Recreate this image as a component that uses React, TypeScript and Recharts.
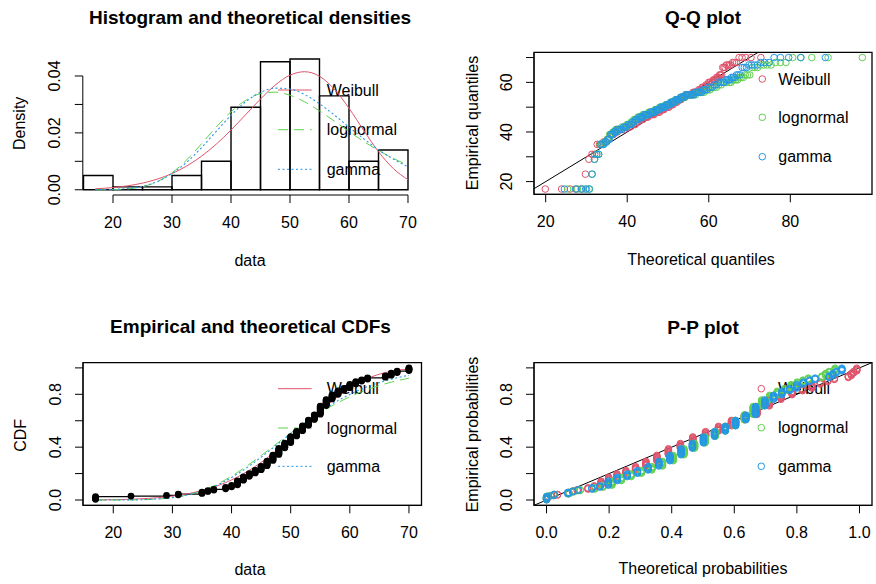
import { ComposedChart, Line, Scatter, XAxis, YAxis, ReferenceArea, ReferenceLine } from "recharts";

const FONT = '"Liberation Sans", Arial, Helvetica, sans-serif';
const RED = "#DF536B";
const GREEN = "#61D04F";
const BLUE = "#2297E6";
const DASH = "10 6";
const DOT = "2 2.5";
const FS = 16;
const TITLE_FS = 19;

// observed sample: distinct values and how often each occurs (n = 200)
const values = [17, 23, 29, 31, 35, 36, 37, 39, 40, 41, 42, 43, 44, 45, 46, 47, 48, 49, 50, 51, 52, 53, 54, 55, 56, 57, 58, 59, 60, 61, 62, 63, 66, 67, 68, 70];
const counts = [5, 1, 1, 2, 3, 2, 2, 3, 3, 7, 6, 5, 5, 6, 8, 9, 10, 8, 10, 8, 8, 9, 8, 13, 10, 7, 6, 4, 6, 4, 3, 3, 3, 4, 3, 5];

// histogram
const histBreaks = [15, 20, 25, 30, 35, 40, 45, 50, 55, 60, 65, 70];
const histDensity = [0.005, 0.001, 0.001, 0.005, 0.01, 0.029, 0.045, 0.046, 0.033, 0.01, 0.014];

// fitted densities
const densX = [17, 20, 22.5, 25, 27.5, 30, 32.5, 35, 37.5, 40, 42.5, 45, 47.5, 50, 52.5, 55, 57.5, 60, 62.5, 65, 67.5, 70];
const densWeibull = [0.00034, 0.00077, 0.00139, 0.00234, 0.00374, 0.00571, 0.00837, 0.0118, 0.01604, 0.021, 0.02645, 0.0319, 0.03681, 0.0403, 0.0415, 0.0399, 0.0354, 0.02866, 0.02085, 0.0134, 0.00748, 0.00353];
const densLognormal = [0.0, 0.00006, 0.00031, 0.00108, 0.00283, 0.00598, 0.01052, 0.01616, 0.02204, 0.02743, 0.03145, 0.0338, 0.03432, 0.03324, 0.0309, 0.02773, 0.02416, 0.02048, 0.01699, 0.01379, 0.01104, 0.00867];
const densGamma = [0.00002, 0.00013, 0.00046, 0.00127, 0.0029, 0.00567, 0.0097, 0.01481, 0.02053, 0.02617, 0.03096, 0.03426, 0.03573, 0.0354, 0.03345, 0.03023, 0.02631, 0.02206, 0.01794, 0.01411, 0.01079, 0.00806];

// fitted CDFs at each distinct value
const cdfWeibull = [0.001, 0.006, 0.0237, 0.0352, 0.0714, 0.084, 0.0983, 0.1323, 0.1523, 0.1744, 0.1986, 0.2251, 0.2538, 0.2846, 0.3176, 0.3526, 0.3894, 0.4277, 0.4674, 0.5082, 0.5495, 0.591, 0.6321, 0.6725, 0.7118, 0.7492, 0.7846, 0.8176, 0.8477, 0.8748, 0.8988, 0.9197, 0.9643, 0.974, 0.9814, 0.9913];
const cdfLognormal = [0.0, 0.0006, 0.0121, 0.0241, 0.0708, 0.0882, 0.1079, 0.1543, 0.1806, 0.209, 0.239, 0.2704, 0.303, 0.3365, 0.3704, 0.4047, 0.4391, 0.4731, 0.5067, 0.5395, 0.5714, 0.6024, 0.6321, 0.6605, 0.6877, 0.7133, 0.7373, 0.76, 0.7812, 0.8011, 0.8194, 0.8364, 0.8798, 0.8918, 0.9028, 0.922];
const cdfGamma = [0.0, 0.0012, 0.0135, 0.0249, 0.0678, 0.0836, 0.1017, 0.145, 0.1703, 0.1974, 0.2263, 0.2578, 0.2905, 0.3245, 0.3589, 0.3945, 0.43, 0.4661, 0.5014, 0.5367, 0.5711, 0.6045, 0.6372, 0.6679, 0.6976, 0.7255, 0.7521, 0.7764, 0.7994, 0.8208, 0.8405, 0.8583, 0.9027, 0.9148, 0.9255, 0.9437];

// Q-Q: ranks shown and their theoretical quantiles
const qqRanks = [1, 2, 3, 4, 5, 6, 7, 8, 9, 10, 11, 12, 13, 14, 15, 16, 17, 18, 19, 20, 21, 22, 23, 24,
  26, 28, 30, 32, 34, 36, 38, 40, 42, 44, 46, 48, 50, 52, 54, 56, 58, 60, 62, 64, 66, 68, 70, 72, 74, 76, 78, 80, 82, 84, 86, 88, 90, 92, 94, 96, 98, 100,
  102, 104, 106, 108, 110, 112, 114, 116, 118, 120, 122, 124, 126, 128, 130, 132, 134, 136, 138, 140, 142, 144, 146, 148, 150, 152, 154, 156, 158, 160, 162, 164, 166, 168, 170, 172,
  174, 175, 176, 177, 178, 179, 180, 181, 182, 183, 184, 185, 186, 187, 188, 189, 190, 191, 192, 193, 194, 195, 196, 197, 198, 199, 200];
const qqWeibull = [19.9, 23.91, 26.04, 27.56, 28.75, 29.74, 30.59, 31.34, 32.01, 32.63, 33.19, 33.71, 34.2, 34.66, 35.09, 35.49, 35.88, 36.25, 36.61, 36.95, 37.27, 37.59, 37.89, 38.18,
  38.74, 39.27, 39.77, 40.24, 40.7, 41.13, 41.55, 41.96, 42.35, 42.72, 43.09, 43.44, 43.79, 44.13, 44.46, 44.78, 45.09, 45.4, 45.7, 46.0, 46.29, 46.58, 46.86, 47.14, 47.41, 47.68, 47.95, 48.21, 48.48, 48.74, 48.99, 49.25, 49.5, 49.75, 50.0, 50.25, 50.49, 50.74,
  50.98, 51.23, 51.47, 51.71, 51.95, 52.19, 52.43, 52.68, 52.92, 53.16, 53.4, 53.64, 53.89, 54.13, 54.38, 54.63, 54.87, 55.12, 55.38, 55.63, 55.89, 56.15, 56.41, 56.68, 56.95, 57.23, 57.51, 57.79, 58.08, 58.38, 58.69, 59.0, 59.32, 59.65, 59.99, 60.35,
  60.72, 60.91, 61.11, 61.31, 61.51, 61.72, 61.94, 62.17, 62.4, 62.64, 62.89, 63.15, 63.42, 63.7, 64.01, 64.32, 64.66, 65.02, 65.41, 65.83, 66.3, 66.83, 67.44, 68.16, 69.08, 70.36, 72.78];
const qqLognormal = [25.39, 27.78, 29.08, 30.03, 30.78, 31.42, 31.98, 32.49, 32.94, 33.36, 33.75, 34.12, 34.46, 34.79, 35.1, 35.4, 35.69, 35.97, 36.23, 36.49, 36.74, 36.98, 37.21, 37.44,
  37.9, 38.32, 38.73, 39.13, 39.51, 39.89, 40.25, 40.6, 40.95, 41.29, 41.63, 41.96, 42.28, 42.6, 42.91, 43.23, 43.53, 43.85, 44.14, 44.45, 44.73, 45.04, 45.33, 45.61, 45.91, 46.21, 46.5, 46.79, 47.08, 47.38, 47.66, 47.96, 48.25, 48.54, 48.83, 49.14, 49.43, 49.73,
  50.03, 50.33, 50.63, 50.93, 51.24, 51.56, 51.87, 52.19, 52.51, 52.84, 53.16, 53.49, 53.84, 54.18, 54.53, 54.89, 55.25, 55.63, 56.0, 56.37, 56.77, 57.18, 57.58, 58.01, 58.45, 58.88, 59.35, 59.83, 60.31, 60.82, 61.35, 61.9, 62.48, 63.07, 63.7, 64.37,
  65.06, 65.44, 65.83, 66.23, 66.63, 67.06, 67.5, 67.97, 68.46, 68.95, 69.49, 70.06, 70.67, 71.29, 71.97, 72.69, 73.48, 74.34, 75.29, 76.34, 77.56, 78.93, 80.58, 82.59, 85.27, 89.27, 97.68];
const qqGamma = [24.59, 27.31, 28.77, 29.82, 30.65, 31.35, 31.96, 32.51, 33.0, 33.46, 33.87, 34.26, 34.63, 34.97, 35.3, 35.62, 35.93, 36.22, 36.49, 36.77, 37.03, 37.28, 37.52, 37.77,
  38.23, 38.67, 39.1, 39.5, 39.89, 40.27, 40.64, 40.99, 41.35, 41.69, 42.03, 42.36, 42.68, 42.99, 43.31, 43.62, 43.92, 44.23, 44.52, 44.82, 45.1, 45.4, 45.68, 45.96, 46.24, 46.53, 46.81, 47.09, 47.38, 47.66, 47.93, 48.21, 48.49, 48.76, 49.04, 49.33, 49.61, 49.89,
  50.17, 50.45, 50.74, 51.02, 51.31, 51.6, 51.89, 52.18, 52.48, 52.78, 53.07, 53.38, 53.7, 54.0, 54.33, 54.65, 54.98, 55.32, 55.65, 55.98, 56.35, 56.71, 57.07, 57.45, 57.83, 58.22, 58.63, 59.04, 59.47, 59.91, 60.37, 60.84, 61.34, 61.85, 62.39, 62.95,
  63.55, 63.86, 64.19, 64.53, 64.86, 65.22, 65.58, 65.98, 66.38, 66.79, 67.23, 67.7, 68.19, 68.7, 69.25, 69.84, 70.47, 71.15, 71.91, 72.74, 73.7, 74.76, 76.03, 77.58, 79.6, 82.56, 88.59];

// axis ticks
const dataTicks = [20, 30, 40, 50, 60, 70];
const densTicks = [0, 0.01, 0.02, 0.03, 0.04];
const densLabels = [0, 0.02, 0.04];
const qqXTicks = [20, 40, 60, 80];
const qqYTicks = [20, 30, 40, 50, 60, 70];
const qqYLabels = [20, 40, 60];
const probTicks = [0, 0.2, 0.4, 0.6, 0.8, 1];
const probLabels = [0, 0.4, 0.8];

// derived from the sample
const sample = values.flatMap((v, k) => Array.from({ length: counts[k] }, () => v));
const N = sample.length;
const cumEnd: number[] = [];
counts.reduce((s, c, k) => ((cumEnd[k] = s + c), s + c), 0);

const ecdfDots = sample.map((v, i) => ({ x: v, y: (i + 1) / N }));
const ecdfSteps = values.map((v, k) => ({ x: v, y: cumEnd[k] / N }));
const curve = (xs: number[], ys: number[]) => xs.map((x, k) => ({ x, y: ys[k] }));
const ppDots = (cdf: number[]) =>
  values.flatMap((_, k) =>
    Array.from({ length: counts[k] }, (_, j) => ({ x: cdf[k], y: (cumEnd[k] - counts[k] + j + 0.5) / N }))
  );
const qqDots = (q: number[]) => qqRanks.map((r, j) => ({ x: q[j], y: sample[r - 1] }));

const txt = { fontFamily: FONT, fontSize: FS, fill: "#000" };

const xTick = (fmt: (v: number) => string) => (p: any) => (
  <text x={p.x} y={p.y + 23} textAnchor="middle" {...txt}>
    {fmt(p.payload.value)}
  </text>
);
const yTick = (labels: number[], fmt: (v: number) => string) => (p: any) => {
  if (!labels.some((l) => Math.abs(l - p.payload.value) < 1e-9)) return <g />;
  const bx = p.x - 12.3;
  return (
    <text x={bx} y={p.y} transform={`rotate(-90 ${bx} ${p.y})`} textAnchor="middle" {...txt}>
      {fmt(p.payload.value)}
    </text>
  );
};

const openCircle = (color: string) => (p: any) => (
  <circle cx={p.cx} cy={p.cy} r={3.3} fill="none" stroke={color} strokeWidth={1} />
);
const filledDot = (p: any) => <circle cx={p.cx} cy={p.cy} r={3.4} fill="#000" />;

function Label({ x, y, text, size = FS, bold = false, vertical = false, anchor = "middle" }: any) {
  const off = size * 0.36;
  const style = { fontFamily: FONT, fontSize: size, fontWeight: bold ? 700 : 400, fill: "#000" };
  if (vertical) {
    const bx = x + off;
    return (
      <text x={bx} y={y} transform={`rotate(-90 ${bx} ${y})`} textAnchor="middle" style={style}>
        {text}
      </text>
    );
  }
  return (
    <text x={x} y={y + off} textAnchor={anchor} style={style}>
      {text}
    </text>
  );
}

const legendNames = ["Weibull", "lognormal", "gamma"];
const legendColors = [RED, GREEN, BLUE];
const legendDash = [undefined, DASH, DOT];

function LineLegend({ x0, x1, tx, rows }: any) {
  return (
    <g>
      {rows.map((y: number, i: number) => (
        <g key={i}>
          <line x1={x0} x2={x1} y1={y} y2={y} stroke={legendColors[i]} strokeDasharray={legendDash[i]} />
          <Label x={tx} y={y} text={legendNames[i]} anchor="start" />
        </g>
      ))}
    </g>
  );
}

function PointLegend({ cx, tx, rows }: any) {
  return (
    <g>
      {rows.map((y: number, i: number) => (
        <g key={i}>
          <circle cx={cx} cy={y} r={3.3} fill="none" stroke={legendColors[i]} />
          <Label x={tx} y={y} text={legendNames[i]} anchor="start" />
        </g>
      ))}
    </g>
  );
}

const W = 438;
const H = 292;
const fmt0 = (v: number) => String(v);
const fmt1 = (v: number) => v.toFixed(1);
const fmt2 = (v: number) => v.toFixed(2);

export default function App() {
  const dataDom: [number, number] = [14.88, 72.12];
  const probDom: [number, number] = [-0.04, 1.04];
  const qqXDom: [number, number] = [17.13, 100.04];
  const qqYDom: [number, number] = [14.88, 72.12];
  const densDom: [number, number] = [-0.00184, 0.04784];

  return (
    <div style={{ position: "fixed", left: 0, top: 0, width: 876, height: 584, background: "#fff" }}>
      {/* titles, axis titles, legends (drawn under the plotted marks) */}
      <svg width={876} height={584} style={{ position: "absolute", left: 0, top: 0 }}>
        <Label x={250} y={17.3} text="Histogram and theoretical densities" size={TITLE_FS} bold />
        <Label x={703} y={17.3} text="Q-Q plot" size={TITLE_FS} bold />
        <Label x={250.5} y={326.3} text="Empirical and theoretical CDFs" size={TITLE_FS} bold />
        <Label x={703} y={327} text="P-P plot" size={TITLE_FS} bold />

        <Label x={250} y={260} text="data" />
        <Label x={701} y={259} text="Theoretical quantiles" />
        <Label x={250} y={569.3} text="data" />
        <Label x={703} y={568.7} text="Theoretical probabilities" />

        <Label x={19.7} y={123.3} text="Density" vertical />
        <Label x={472.3} y={123} text="Empirical quantiles" vertical />
        <Label x={20.7} y={435.3} text="CDF" vertical />
        <Label x={472.3} y={434.5} text="Empirical probabilities" vertical />

        <LineLegend x0={278} x1={311.7} tx={326.7} rows={[90, 129.7, 169.3]} />
        <LineLegend x0={278} x1={311.7} tx={326.7} rows={[388.7, 428, 466.3]} />
        <PointLegend cx={762.3} tx={778.3} rows={[79, 117.3, 156.7]} />
        <PointLegend cx={761.3} tx={778} rows={[388.7, 427.7, 466.3]} />
      </svg>

      {/* histogram */}
      <div style={{ position: "absolute", left: 0, top: 0 }}>
        <ComposedChart width={W} height={H} margin={{ top: 53.7, right: W - 420.5, bottom: 0, left: 0 }}>
          <XAxis type="number" dataKey="x" domain={dataDom} ticks={dataTicks} interval={0} allowDataOverflow
            height={H - 195} axisLine={false} tickSize={8} tickLine={{ stroke: "#000" }} tick={xTick(fmt0)} />
          <YAxis type="number" dataKey="y" domain={densDom} ticks={densTicks} interval={0} allowDataOverflow
            width={82.8} axisLine={false} tickSize={8} tickLine={{ stroke: "#000" }} tick={yTick(densLabels, fmt2)} />
          <ReferenceLine segment={[{ x: 20, y: densDom[0] }, { x: 70, y: densDom[0] }]} stroke="#000" ifOverflow="visible" />
          <ReferenceLine segment={[{ x: dataDom[0], y: 0 }, { x: dataDom[0], y: 0.04 }]} stroke="#000" ifOverflow="visible" />
          {histDensity.map((d, k) => (
            <ReferenceArea key={k} x1={histBreaks[k]} x2={histBreaks[k + 1]} y1={0} y2={d}
              fill="none" fillOpacity={0} stroke="#000" strokeWidth={1.4} ifOverflow="visible" />
          ))}
          <Line data={curve(densX, densWeibull)} dataKey="y" type="monotone" stroke={RED} strokeWidth={1} dot={false} isAnimationActive={false} />
          <Line data={curve(densX, densLognormal)} dataKey="y" type="monotone" stroke={GREEN} strokeWidth={1} strokeDasharray={DASH} dot={false} isAnimationActive={false} />
          <Line data={curve(densX, densGamma)} dataKey="y" type="monotone" stroke={BLUE} strokeWidth={1.1} strokeDasharray={DOT} dot={false} isAnimationActive={false} />
        </ComposedChart>
      </div>

      {/* Q-Q */}
      <div style={{ position: "absolute", left: 438, top: 0 }}>
        <ComposedChart width={W} height={H} margin={{ top: 52.3, right: W - 434, bottom: 0, left: 0 }}>
          <XAxis type="number" dataKey="x" domain={qqXDom} ticks={qqXTicks} interval={0} allowDataOverflow
            height={H - 194.3} axisLine={{ stroke: "#000" }} tickSize={8} tickLine={{ stroke: "#000" }} tick={xTick(fmt0)} />
          <YAxis type="number" dataKey="y" domain={qqYDom} ticks={qqYTicks} interval={0} allowDataOverflow
            width={96} axisLine={{ stroke: "#000" }} tickSize={8} tickLine={{ stroke: "#000" }} tick={yTick(qqYLabels, fmt0)} />
          <ReferenceArea x1={qqXDom[0]} x2={qqXDom[1]} y1={qqYDom[0]} y2={qqYDom[1]} fill="none" fillOpacity={0} stroke="#000" strokeWidth={1.3} ifOverflow="visible" />
          <Scatter data={qqDots(qqWeibull)} dataKey="y" shape={openCircle(RED)} isAnimationActive={false} />
          <Scatter data={qqDots(qqLognormal)} dataKey="y" shape={openCircle(GREEN)} isAnimationActive={false} />
          <Scatter data={qqDots(qqGamma)} dataKey="y" shape={openCircle(BLUE)} isAnimationActive={false} />
          <ReferenceLine segment={[{ x: qqXDom[0], y: qqXDom[0] }, { x: qqYDom[1], y: qqYDom[1] }]} stroke="#000" ifOverflow="visible" />
        </ComposedChart>
      </div>

      {/* CDFs */}
      <div style={{ position: "absolute", left: 0, top: 292 }}>
        <ComposedChart width={W} height={H} margin={{ top: 70.6, right: W - 421.5, bottom: 0, left: 0 }}>
          <XAxis type="number" dataKey="x" domain={dataDom} ticks={dataTicks} interval={0} allowDataOverflow
            height={H - 213.3} axisLine={{ stroke: "#000" }} tickSize={8} tickLine={{ stroke: "#000" }} tick={xTick(fmt0)} />
          <YAxis type="number" dataKey="y" domain={probDom} ticks={probTicks} interval={0} allowDataOverflow
            width={83} axisLine={{ stroke: "#000" }} tickSize={8} tickLine={{ stroke: "#000" }} tick={yTick(probLabels, fmt1)} />
          <ReferenceArea x1={dataDom[0]} x2={dataDom[1]} y1={probDom[0]} y2={probDom[1]} fill="none" fillOpacity={0} stroke="#000" strokeWidth={1.3} ifOverflow="visible" />
          <Line data={ecdfSteps} dataKey="y" type="stepAfter" stroke="#000" strokeWidth={1.3} dot={false} isAnimationActive={false} />
          <Scatter data={ecdfDots} dataKey="y" shape={filledDot} isAnimationActive={false} />
          <Line data={curve(values, cdfWeibull)} dataKey="y" type="monotone" stroke={RED} strokeWidth={1} dot={false} isAnimationActive={false} />
          <Line data={curve(values, cdfLognormal)} dataKey="y" type="monotone" stroke={GREEN} strokeWidth={1} strokeDasharray={DASH} dot={false} isAnimationActive={false} />
          <Line data={curve(values, cdfGamma)} dataKey="y" type="monotone" stroke={BLUE} strokeWidth={1.1} strokeDasharray={DOT} dot={false} isAnimationActive={false} />
        </ComposedChart>
      </div>

      {/* P-P */}
      <div style={{ position: "absolute", left: 438, top: 292 }}>
        <ComposedChart width={W} height={H} margin={{ top: 70.6, right: W - 434, bottom: 0, left: 0 }}>
          <XAxis type="number" dataKey="x" domain={probDom} ticks={probTicks} interval={0} allowDataOverflow
            height={H - 213.3} axisLine={{ stroke: "#000" }} tickSize={8} tickLine={{ stroke: "#000" }} tick={xTick(fmt1)} />
          <YAxis type="number" dataKey="y" domain={probDom} ticks={probTicks} interval={0} allowDataOverflow
            width={96} axisLine={{ stroke: "#000" }} tickSize={8} tickLine={{ stroke: "#000" }} tick={yTick(probLabels, fmt1)} />
          <ReferenceArea x1={probDom[0]} x2={probDom[1]} y1={probDom[0]} y2={probDom[1]} fill="none" fillOpacity={0} stroke="#000" strokeWidth={1.3} ifOverflow="visible" />
          <Scatter data={ppDots(cdfWeibull)} dataKey="y" shape={openCircle(RED)} isAnimationActive={false} />
          <Scatter data={ppDots(cdfLognormal)} dataKey="y" shape={openCircle(GREEN)} isAnimationActive={false} />
          <Scatter data={ppDots(cdfGamma)} dataKey="y" shape={openCircle(BLUE)} isAnimationActive={false} />
          <ReferenceLine segment={[{ x: probDom[0], y: probDom[0] }, { x: probDom[1], y: probDom[1] }]} stroke="#000" ifOverflow="visible" />
        </ComposedChart>
      </div>
    </div>
  );
}
